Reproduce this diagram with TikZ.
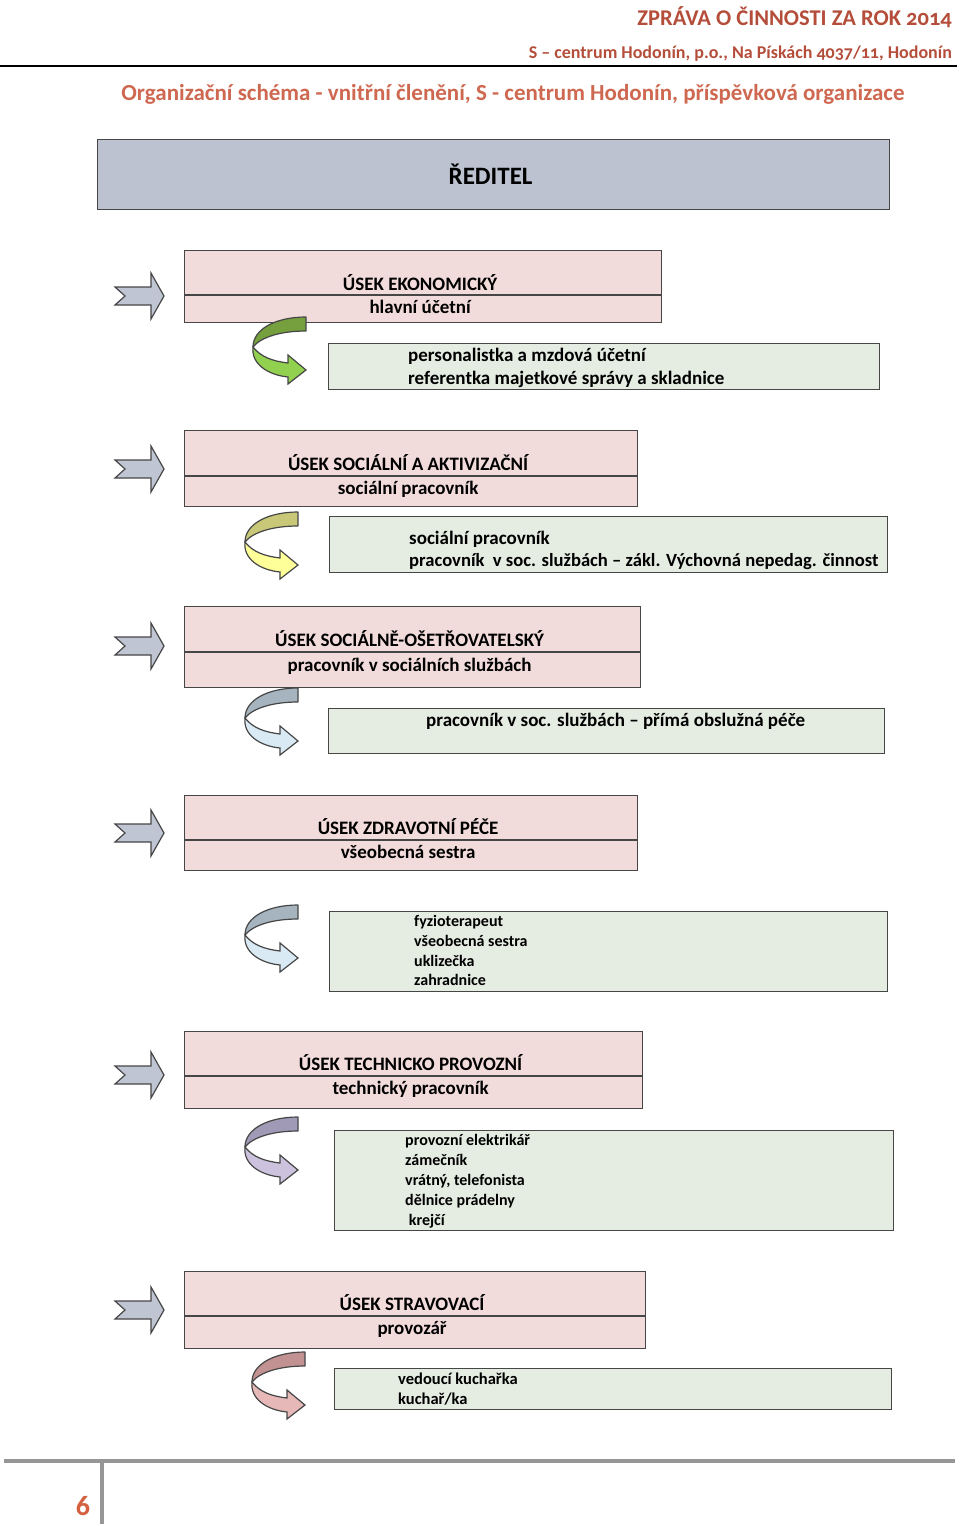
\documentclass[tikz,border=0pt]{standalone}
\usepackage{fontspec}
\setmainfont{Carlito}
\usetikzlibrary{positioning}

\definecolor{hlavicka}{RGB}{180,78,58}
\definecolor{nadpis}{RGB}{206,104,80}
\definecolor{cislo}{RGB}{212,96,63}
\definecolor{ramecek}{RGB}{70,70,70}
\definecolor{reditel}{RGB}{189,194,208}
\definecolor{ruzova}{RGB}{242,220,219}
\definecolor{zelena}{RGB}{229,236,226}
\definecolor{sipkamodra}{RGB}{192,197,212}
\definecolor{sedalinka}{RGB}{150,150,150}
% barvy obloukovych sipek (tmava/svetla strana)
\definecolor{zelenaT}{RGB}{118,160,62}
\definecolor{zelenaS}{RGB}{146,208,80}
\definecolor{zlutaT}{RGB}{200,200,120}
\definecolor{zlutaS}{RGB}{255,255,153}
\definecolor{modraT}{RGB}{165,180,190}
\definecolor{modraS}{RGB}{218,234,245}
\definecolor{fialT}{RGB}{160,154,182}
\definecolor{fialS}{RGB}{204,194,222}
\definecolor{ruzT}{RGB}{194,146,146}
\definecolor{ruzS}{RGB}{230,184,183}

\newcommand{\pismoA}{\fontsize{19}{23}\selectfont}
\newcommand{\pismoB}{\fontsize{16}{20}\selectfont}

\tikzset{
	usek/.style={draw=ramecek,fill=ruzova,line width=1.2pt,rectangle,anchor=north west,inner sep=0pt},
	pozice/.style={draw=ramecek,fill=zelena,line width=1.2pt,rectangle,anchor=north west,inner sep=0pt},
	delic/.style={draw=ramecek,line width=1.2pt},
	popis/.style={font=\bfseries\pismoA,inner sep=0pt,anchor=base},
	radek/.style={font=\bfseries\pismoA,inner sep=0pt,anchor=base west},
	radekmaly/.style={font=\bfseries\pismoB,inner sep=0pt,anchor=base west},
	pics/sipka/.style={code={
		\draw[ramecek,fill=sipkamodra,line width=1.2pt,line join=miter]
		(-25,-9) -- (-15,0) -- (-25,9) -- (11,9) -- (11,23) -- (24,0) -- (11,-23) -- (11,-9) -- cycle;
	}},
	pics/obrat/.style 2 args={code={
		\draw[ramecek,fill=#1,line width=1.2pt,line join=round]
		(0,0) .. controls (-30,0) and (-53,12) .. (-53,30)
		.. controls (-45,20) and (-25,14) .. (0,14) -- cycle;
		\draw[ramecek,fill=#2,line width=1.2pt,line join=miter]
		(-53,30) .. controls (-45,40) and (-34,44) .. (-18,46) -- (-18,38) -- (0,53)
		-- (-18,67) -- (-18,60) .. controls (-38,58) and (-55,47) .. (-53,30) -- cycle;
	}}
}

\begin{document}
\begin{tikzpicture}[x=1pt,y=-1pt]
	\useasboundingbox (0,0) rectangle (960,1526);
	
	% hlavicka
	\node[font=\bfseries\fontsize{22.5}{26}\selectfont\addfontfeatures{Numbers=OldStyle},text=hlavicka,anchor=base east,inner sep=0pt] (zprava) at (952,25) {ZPRÁVA O ČINNOSTI ZA ROK 2014};
	\node[font=\bfseries\fontsize{18}{22}\selectfont\addfontfeatures{Numbers=OldStyle},text=hlavicka,anchor=base east,inner sep=0pt] (adresa) at (952,58) {S – centrum Hodonín, p.o., Na Pískách 4037/11, Hodonín};
	\draw[black,line width=1.3pt] (0,66) -- (957,66);
	\node[font=\bfseries\fontsize{23}{27}\selectfont,text=nadpis,anchor=base,inner sep=0pt] (schema) at (513,100) {Organizační schéma - vnitřní členění, S - centrum Hodonín, příspěvková organizace};
	
	\node[draw=ramecek,fill=reditel,line width=1.2pt,anchor=north west,minimum width=792pt,minimum height=70pt,inner sep=0pt,font=\bfseries\fontsize{25}{30}\selectfont] (reditel) at (97,139) {ŘEDITEL\hspace*{6pt}};
	
	% useky
	\node[usek,minimum width=477pt,minimum height=72pt] (u1) at (184,250) {};
	\draw[delic] (u1.west |- 0,295) -- (u1.east |- 0,295);
	\node[popis] (u1a) at ([xshift=-3pt]u1.north |- 0,290) {ÚSEK EKONOMICKÝ};
	\node[popis] (u1b) at ([xshift=-3pt]u1.north |- 0,313) {hlavní účetní};
	
	\node[usek,minimum width=453pt,minimum height=76pt] (u2) at (184,430) {};
	\draw[delic] (u2.west |- 0,476) -- (u2.east |- 0,476);
	\node[popis] (u2a) at ([xshift=-3pt]u2.north |- 0,470) {ÚSEK SOCIÁLNÍ A AKTIVIZAČNÍ};
	\node[popis] (u2b) at ([xshift=-3pt]u2.north |- 0,494) {sociální pracovník};
	
	\node[usek,minimum width=456pt,minimum height=81pt] (u3) at (184,606) {};
	\draw[delic] (u3.west |- 0,652) -- (u3.east |- 0,652);
	\node[popis] (u3a) at ([xshift=-3pt]u3.north |- 0,646) {ÚSEK SOCIÁLNĚ-OŠETŘOVATELSKÝ};
	\node[popis] (u3b) at ([xshift=-3pt]u3.north |- 0,671) {pracovník v sociálních službách};
	
	\node[usek,minimum width=453pt,minimum height=75pt] (u4) at (184,795) {};
	\draw[delic] (u4.west |- 0,840) -- (u4.east |- 0,840);
	\node[popis] (u4a) at ([xshift=-3pt]u4.north |- 0,834) {ÚSEK ZDRAVOTNÍ PÉČE};
	\node[popis] (u4b) at ([xshift=-3pt]u4.north |- 0,858) {všeobecná sestra};
	
	\node[usek,minimum width=458pt,minimum height=77pt] (u5) at (184,1031) {};
	\draw[delic] (u5.west |- 0,1076) -- (u5.east |- 0,1076);
	\node[popis] (u5a) at ([xshift=-3pt]u5.north |- 0,1070) {ÚSEK TECHNICKO PROVOZNÍ};
	\node[popis] (u5b) at ([xshift=-3pt]u5.north |- 0,1094) {technický pracovník};
	
	\node[usek,minimum width=461pt,minimum height=77pt] (u6) at (184,1271) {};
	\draw[delic] (u6.west |- 0,1316) -- (u6.east |- 0,1316);
	\node[popis] (u6a) at ([xshift=-3pt]u6.north |- 0,1310) {ÚSEK STRAVOVACÍ};
	\node[popis] (u6b) at ([xshift=-3pt]u6.north |- 0,1334) {provozář};
	
	% pozice pod useky
	\node[pozice,minimum width=551pt,minimum height=46pt] (p1) at (328,343) {};
	\node[radek] (p1a) at (408,361) {personalistka a mzdová účetní};
	\node[radek] (p1b) at (408,384) {referentka majetkové správy a skladnice};
	
	\node[pozice,minimum width=558pt,minimum height=56pt] (p2) at (329,516) {};
	\node[radek] (p2a) at (409,544) {sociální pracovník};
	\node[radek,font=\bfseries\fontsize{18.6}{23}\selectfont] (p2b) at (409,566) {pracovník\ \ v soc. službách – zákl. Výchovná nepedag. činnost};
	
	\node[pozice,minimum width=556pt,minimum height=45pt] (p3) at (328,708) {};
	\node[radek] (p3a) at (426,726) {pracovník v soc. službách – přímá obslužná péče};
	
	\node[pozice,minimum width=558pt,minimum height=80pt] (p4) at (329,911) {};
	\foreach \t [count=\i] in {fyzioterapeut,všeobecná sestra,uklizečka,zahradnice}
	\node[radekmaly] (p4t\i) at (414,907+19.7*\i) {\t};
	
	\node[pozice,minimum width=559pt,minimum height=100pt] (p5) at (334,1130) {};
	\foreach \t [count=\i] in {provozní elektrikář,zámečník,{vrátný, telefonista},dělnice prádelny,\ krejčí}
	\node[radekmaly] (p5t\i) at (405,1125+20*\i) {\t};
	
	\node[pozice,minimum width=557pt,minimum height=41pt] (p6) at (334,1368) {};
	\node[radekmaly,font=\bfseries\fontsize{16.5}{20}\selectfont] (p6a) at (398,1384) {vedoucí kuchařka};
	\node[radekmaly,font=\bfseries\fontsize{16.5}{20}\selectfont] (p6b) at (398,1404) {kuchař/ka};
	
	% sipky vlevo
	\foreach \y in {296,469,646,833,1075,1310}
	\pic (s\y) at (140,\y) {sipka};
	
	% obloukove sipky
	\pic (o1) at (306,317) {obrat={zelenaT}{zelenaS}};
	\pic (o2) at (298,512) {obrat={zlutaT}{zlutaS}};
	\pic (o3) at (298,688) {obrat={modraT}{modraS}};
	\pic (o4) at (298,905) {obrat={modraT}{modraS}};
	\pic (o5) at (298,1117) {obrat={fialT}{fialS}};
	\pic (o6) at (305,1352) {obrat={ruzT}{ruzS}};
	
	% paticka
	\draw[sedalinka,line width=4pt] (4,1461) -- (955,1461);
	\draw[sedalinka,line width=4pt] (102,1461) -- (102,1524);
	\node[font=\bfseries\fontsize{28}{32}\selectfont,text=cislo,anchor=base,inner sep=0pt] (strana) at (83,1515) {6};
\end{tikzpicture}
\end{document}
